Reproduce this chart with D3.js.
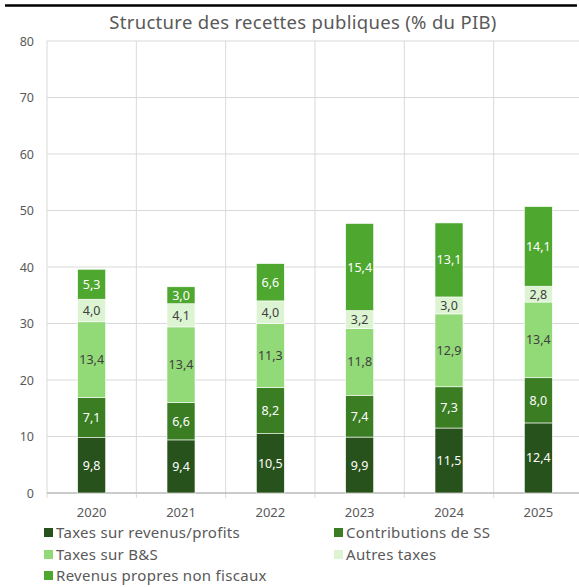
<!DOCTYPE html>
<html>
<head>
<meta charset="utf-8">
<script src="https://cdn.jsdelivr.net/npm/d3@7"></script>
<style>
body { margin: 0; background: #fff; }
text { font-family: "Noto Sans", "DejaVu Sans", sans-serif; }
</style>
</head>
<body>
<div id="chart"></div>
<script>
var years = ["2020","2021","2022","2023","2024","2025"];
var seriesNames = ["Taxes sur revenus/profits","Contributions de SS","Taxes sur B&S","Autres taxes","Revenus propres non fiscaux"];
var taxesRevenus = [9.8, 9.4, 10.5, 9.9, 11.5, 12.4];
var contributionsSS = [7.1, 6.6, 8.2, 7.4, 7.3, 8.0];
var taxesBS = [13.4, 13.4, 11.3, 11.8, 12.9, 13.4];
var autresTaxes = [4.0, 4.1, 4.0, 3.2, 3.0, 2.8];
var revenusPropres = [5.3, 3.0, 6.6, 15.4, 13.1, 14.1];
var yTicks = [0,10,20,30,40,50,60,70,80];

var colors = ["#28521b","#3b7d23","#92d977","#dcf4d2","#4ea72e"];
var labelColors = ["#ffffff","#ffffff","#404040","#404040","#ffffff"];

var width = 579, height = 587;
var padding = {left:47, right:-4, top:41, bottom:94};

var svg = d3.select("#chart")
	.append("svg")
	.attr("width", width)
	.attr("height", height);

// top rule
svg.append("line")
	.attr("x1",5).attr("x2",577)
	.attr("y1",5.5).attr("y2",5.5)
	.attr("stroke","#000").attr("stroke-width",2.5);

svg.append("text")
	.text("Structure des recettes publiques (% du PIB)")
	.attr("x",303).attr("y",29)
	.style("text-anchor","middle")
	.style("font-size","18.5px")
	.style("letter-spacing","0.3px")
	.attr("fill","#595959");

var rows = years.map(function(y, i) {
	return {year:y, s0:taxesRevenus[i], s1:contributionsSS[i], s2:taxesBS[i], s3:autresTaxes[i], s4:revenusPropres[i]};
});
var keys = ["s0","s1","s2","s3","s4"];
var stacked = d3.stack().keys(keys)(rows);

var x = d3.scaleBand()
	.domain(years)
	.range([padding.left, width - padding.right])
	.paddingInner(0).paddingOuter(0);

var y = d3.scaleLinear()
	.domain([0,80])
	.range([height - padding.bottom, padding.top]);

var grid = svg.append("g");
yTicks.forEach(function(t) {
	grid.append("line")
		.attr("x1", padding.left).attr("x2", width - padding.right)
		.attr("y1", y(t)).attr("y2", y(t))
		.attr("stroke", "#d9d9d9").attr("stroke-width", 1);
	grid.append("text")
		.text(t)
		.attr("x", 34).attr("y", y(t) + 4.5)
		.style("text-anchor","end")
		.style("font-size","12.5px")
		.attr("fill","#595959");
});
years.forEach(function(yr) {
	grid.append("line")
		.attr("x1", x(yr)).attr("x2", x(yr))
		.attr("y1", padding.top).attr("y2", y(0) + 5)
		.attr("stroke", "#d9d9d9").attr("stroke-width", 1);
});
grid.append("line")
	.attr("x1", padding.left).attr("x2", width)
	.attr("y1", y(0)).attr("y2", y(0))
	.attr("stroke", "#bfbfbf").attr("stroke-width", 1.5);

var barW = 28;
stacked.forEach(function(layer, k) {
	var g = svg.append("g");
	layer.forEach(function(d) {
		var cx = x(d.data.year) + x.bandwidth()/2;
		g.append("rect")
			.attr("x", cx - barW/2)
			.attr("width", barW)
			.attr("y", y(d[1]))
			.attr("height", y(d[0]) - y(d[1]))
			.attr("fill", colors[k])
			.attr("stroke", "#ffffff")
			.attr("stroke-width", 0.6);
		g.append("text")
			.text(d3.format(".1f")(d[1]-d[0]).replace(".", ","))
			.attr("x", cx)
			.attr("y", (y(d[0]) + y(d[1]))/2 + 4.5)
			.style("text-anchor","middle")
			.style("font-size","12.5px")
			.attr("fill", labelColors[k]);
	});
});

years.forEach(function(yr) {
	svg.append("text")
		.text(yr)
		.attr("x", x(yr) + x.bandwidth()/2)
		.attr("y", 517)
		.style("text-anchor","middle")
		.style("font-size","13px")
		.attr("fill","#595959");
});

var legendPos = [[44,538],[334,538],[44,560],[334,560],[44,581]];
seriesNames.forEach(function(n, i) {
	var p = legendPos[i];
	svg.append("rect")
		.attr("x", p[0]).attr("y", p[1] - 10)
		.attr("width", 9).attr("height", 9)
		.attr("fill", colors[i]);
	svg.append("text")
		.text(n)
		.attr("x", p[0] + 12).attr("y", p[1])
		.style("font-size","15px")
		.style("letter-spacing","0.3px")
		.attr("fill","#595959");
});
</script>
</body>
</html>
